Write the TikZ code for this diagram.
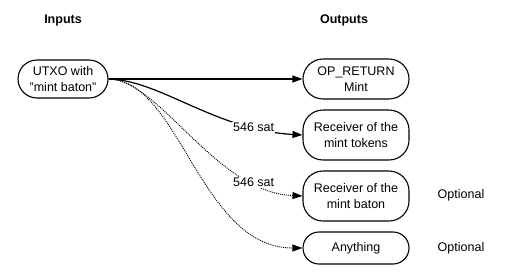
\documentclass[tikz,border=0pt]{standalone}
\usepackage{fontspec}
\setmainfont{Liberation Sans}
\usetikzlibrary{arrows.meta}
\tikzset{
  box/.style={draw, line width=1.1pt, rounded corners=20pt, align=center, inner sep=2pt,
    font=\fontsize{12.5}{16.5}\selectfont, minimum width=106pt},
  title/.style={font=\fontsize{12.5}{15}\selectfont\bfseries},
  plain/.style={font=\fontsize{12.5}{15}\selectfont},
  conn/.style={line width=1.2pt, -{Triangle[length=10pt,width=7pt]}},
  dotconn/.style={line width=0.9pt, dash pattern=on 1pt off 1pt, -{Triangle[length=10pt,width=7pt]}},
  lbl/.style={fill=white, inner sep=1pt, font=\fontsize{12.5}{15}\selectfont}
}
\begin{document}
\begin{tikzpicture}[x=1pt,y=-1pt]
\useasboundingbox (0,0) rectangle (513,277);
\node[title] (tin) at (63,20) {Inputs};
\node[title] (tout) at (344,20) {Outputs};
\node[box, minimum width=90pt, minimum height=38pt, rounded corners=19pt] (u) at (63,79) {UTXO with\\"mint baton"};
\node[box, minimum height=40pt] (o1) at (356,79) {OP\_RETURN\\Mint};
\node[box, minimum height=50pt] (o2) at (356,135) {Receiver of the\\mint tokens};
\node[box, minimum height=50pt] (o3) at (356,196) {Receiver of the\\mint baton};
\node[box, minimum height=32pt, rounded corners=16pt] (o4) at (356,248) {Anything};
\node[plain] (opt1) at (461,195) {Optional};
\node[plain] (opt2) at (461,248) {Optional};
\draw[dotconn] (u.east) .. controls (180,80) and (200,248) .. (o4.west);
\draw[dotconn] (u.east) .. controls (160,80) and (215,192) .. node[lbl, pos=0.8] (l2) {546 sat} (o3.west);
\draw[conn] (u.east) .. controls (160,80) and (215,130) .. node[lbl, pos=0.8] (l1) {546 sat} (o2.west);
\draw[conn] (u.east) -- (o1.west);
\end{tikzpicture}
\end{document}
